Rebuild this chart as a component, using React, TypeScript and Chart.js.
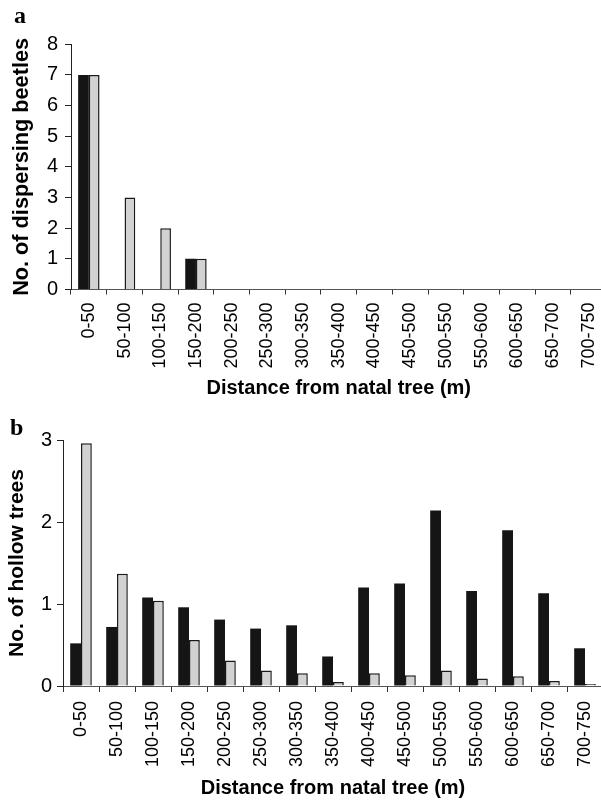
import React, { useEffect, useRef } from "react";
import { Chart, registerables } from "chart.js";

Chart.register(...registerables);

const categories = [
  "0-50", "50-100", "100-150", "150-200", "200-250", "250-300", "300-350",
  "350-400", "400-450", "450-500", "500-550", "550-600", "600-650", "650-700", "700-750",
];

// Panel a: number of dispersing beetles
const beetlesBlack = [7, 0, 0, 1, 0, 0, 0, 0, 0, 0, 0, 0, 0, 0, 0];
const beetlesGray = [7, 3, 2, 1, 0, 0, 0, 0, 0, 0, 0, 0, 0, 0, 0];
const beetlesMax = 8;

// Panel b: number of hollow trees
const treesBlack = [0.52, 0.72, 1.08, 0.96, 0.81, 0.7, 0.74, 0.36, 1.2, 1.25, 2.14, 1.16, 1.9, 1.13, 0.46];
const treesGray = [2.96, 1.37, 1.04, 0.56, 0.31, 0.19, 0.155, 0.05, 0.155, 0.13, 0.19, 0.09, 0.12, 0.06, 0.025];
const treesMax = 3;

const xTitle = "Distance from natal tree (m)";
const yTitleA = "No. of dispersing beetles";
const yTitleB = "No. of hollow trees";

const FONT = "'Liberation Sans', Arial, sans-serif";
const BLACK = "#151515";
const GRAY = "#d2d2d2";

interface PanelGeom {
  width: number;
  height: number;
  padTop: number;
  padRight: number;
  yWidth: number;
  xHeight: number;
  yTitlePad: number;
  yTitleSize: number;
  xTitlePadBottom: number;
  yTickPad: number;
  xTickLen: number;
  xTickPad: number;
}

function makeConfig(black: number[], gray: number[], yMax: number, yTitle: string, g: PanelGeom): any {
  return {
    type: "bar",
    data: {
      labels: categories,
      datasets: [
        {
          label: "black",
          data: black,
          backgroundColor: BLACK,
          borderColor: BLACK,
          borderWidth: 0,
          categoryPercentage: 0.6,
          barPercentage: 1.0,
        },
        {
          label: "gray",
          data: gray,
          backgroundColor: GRAY,
          borderColor: "#1a1a1a",
          borderWidth: 1.5,
          categoryPercentage: 0.6,
          barPercentage: 1.0,
        },
      ],
    },
    options: {
      responsive: false,
      animation: false,
      devicePixelRatio: 1,
      layout: { padding: { top: g.padTop, right: g.padRight, left: 0, bottom: 0 } },
      plugins: {
        legend: { display: false },
        tooltip: { enabled: false },
        title: { display: false },
      },
      scales: {
        x: {
          type: "category",
          offset: true,
          grid: {
            display: true,
            offset: true,
            drawOnChartArea: false,
            drawTicks: true,
            tickLength: g.xTickLen,
            color: "#333",
            lineWidth: 1,
          },
          border: { display: true, color: "#555", width: 1 },
          ticks: {
            autoSkip: false,
            minRotation: 90,
            maxRotation: 90,
            padding: g.xTickPad,
            color: "#000",
            font: { family: FONT, size: 18 },
          },
          title: {
            display: true,
            text: xTitle,
            color: "#000",
            font: { family: FONT, size: 20, weight: "bold" },
            padding: { top: 0, bottom: g.xTitlePadBottom },
          },
          afterFit: (s: any) => {
            s.height = g.xHeight;
          },
        },
        y: {
          min: 0,
          max: yMax,
          ticks: {
            stepSize: 1,
            padding: g.yTickPad,
            color: "#000",
            font: { family: FONT, size: 20 },
          },
          grid: {
            display: true,
            drawOnChartArea: false,
            drawTicks: true,
            tickLength: 6,
            color: "#222",
            lineWidth: 1,
          },
          border: { display: true, color: "#222", width: 1 },
          title: {
            display: true,
            text: yTitle,
            color: "#000",
            font: { family: FONT, size: g.yTitleSize, weight: "bold" },
            padding: { top: g.yTitlePad, bottom: 0 },
          },
          afterFit: (s: any) => {
            s.width = g.yWidth;
          },
        },
      },
    },
  };
}

function Panel(props: {
  top: number;
  black: number[];
  gray: number[];
  yMax: number;
  yTitle: string;
  geom: PanelGeom;
}) {
  const ref = useRef<HTMLCanvasElement | null>(null);
  useEffect(() => {
    if (!ref.current) return;
    const chart = new Chart(
      ref.current,
      makeConfig(props.black, props.gray, props.yMax, props.yTitle, props.geom)
    );
    return () => chart.destroy();
  }, []);
  return (
    <canvas
      ref={ref}
      width={props.geom.width}
      height={props.geom.height}
      style={{
        position: "absolute",
        left: 0,
        top: props.top,
        width: props.geom.width,
        height: props.geom.height,
      }}
    />
  );
}

const geomA: PanelGeom = {
  width: 620,
  height: 400,
  padTop: 44.3,
  padRight: 13.5,
  yWidth: 71,
  xHeight: 110.5,
  yTitlePad: 9,
  yTitleSize: 21.7,
  xTitlePadBottom: 0,
  yTickPad: 7,
  xTickLen: 5,
  xTickPad: 8,
};

const geomB: PanelGeom = {
  width: 620,
  height: 403,
  padTop: 40,
  padRight: 17,
  yWidth: 63,
  xHeight: 117,
  yTitlePad: 5,
  yTitleSize: 21,
  xTitlePadBottom: 3,
  yTickPad: 5,
  xTickLen: 6,
  xTickPad: 9,
};

const letterStyle: React.CSSProperties = {
  position: "absolute",
  fontFamily: "'Liberation Serif', 'Times New Roman', serif",
  fontWeight: "bold",
  fontSize: 24,
  lineHeight: "24px",
  color: "#000",
};

export default function App() {
  return (
    <div
      style={{
        position: "absolute",
        left: 0,
        top: 0,
        width: 601,
        height: 803,
        overflow: "hidden",
        background: "#fff",
      }}
    >
      <Panel top={0} black={beetlesBlack} gray={beetlesGray} yMax={beetlesMax} yTitle={yTitleA} geom={geomA} />
      <Panel top={400} black={treesBlack} gray={treesGray} yMax={treesMax} yTitle={yTitleB} geom={geomB} />
      <span style={{ ...letterStyle, left: 14, top: 2.5 }}>a</span>
      <span style={{ ...letterStyle, left: 10, top: 415 }}>b</span>
    </div>
  );
}
